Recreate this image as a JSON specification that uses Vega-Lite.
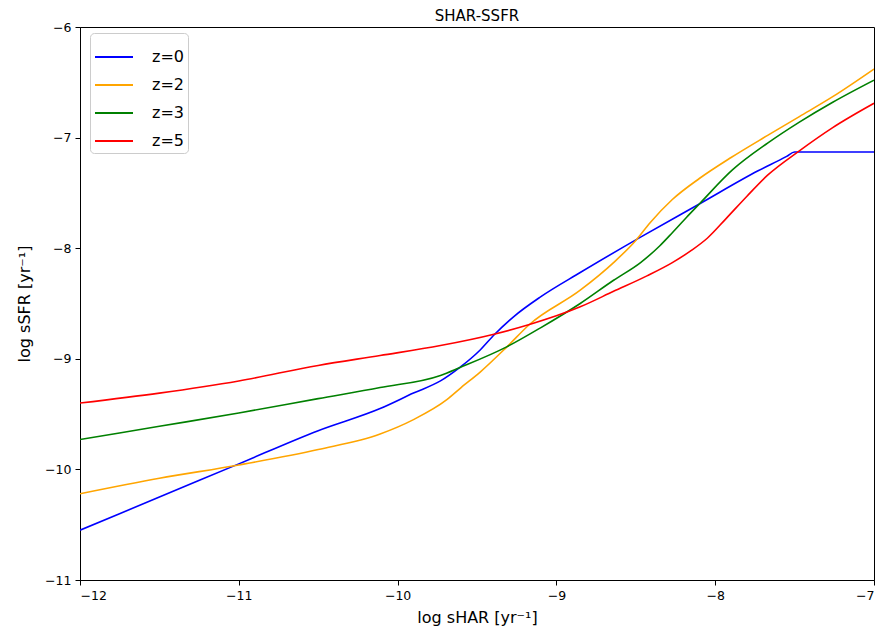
{
  "$schema": "https://vega.github.io/schema/vega-lite/v6.json",
  "width": 794,
  "height": 553,
  "autosize": {"type": "none"},
  "padding": {"left": 80, "top": 27, "right": 9, "bottom": 52},
  "background": "white",
  "title": {"text": "SHAR-SSFR", "fontSize": 15, "font": "DejaVu Sans", "fontWeight": "normal", "color": "#000", "offset": -3},
  "config": {
    "view": {"stroke": "#000", "strokeWidth": 1},
    "axis": {
      "grid": false, "domainColor": "#000", "tickColor": "#000", "tickSize": 5,
      "labelFont": "DejaVu Sans", "labelFontSize": 12.5, "labelColor": "#000",
      "titleFont": "DejaVu Sans", "titleFontSize": 16, "titleFontWeight": "normal", "titleColor": "#000"
    },
    "legend": {
      "padding": 4, "strokeColor": "#cccccc", "cornerRadius": 4, "fillColor": "white",
      "symbolType": "stroke", "symbolSize": 1444, "symbolStrokeWidth": 2, "rowPadding": 0,
      "labelFont": "DejaVu Sans", "labelFontSize": 16, "labelColor": "#000", "labelOffset": 18
    }
  },
  "data": {"values": [
    {"x": -12, "y": -10.55, "z": "z=0"},
    {"x": -11.5, "y": -10.25, "z": "z=0"},
    {"x": -11, "y": -9.95, "z": "z=0"},
    {"x": -10.5, "y": -9.65, "z": "z=0"},
    {"x": -10.11, "y": -9.45, "z": "z=0"},
    {"x": -9.9, "y": -9.31, "z": "z=0"},
    {"x": -9.73, "y": -9.2, "z": "z=0"},
    {"x": -9.61, "y": -9.08, "z": "z=0"},
    {"x": -9.48, "y": -8.92, "z": "z=0"},
    {"x": -9.39, "y": -8.78, "z": "z=0"},
    {"x": -9.27, "y": -8.62, "z": "z=0"},
    {"x": -9.1, "y": -8.44, "z": "z=0"},
    {"x": -8.85, "y": -8.22, "z": "z=0"},
    {"x": -8.47, "y": -7.9, "z": "z=0"},
    {"x": -8.1, "y": -7.6, "z": "z=0"},
    {"x": -7.73, "y": -7.3, "z": "z=0"},
    {"x": -7.55, "y": -7.17, "z": "z=0"},
    {"x": -7.5, "y": -7.13, "z": "z=0"},
    {"x": -7.0, "y": -7.13, "z": "z=0"},

    {"x": -12, "y": -10.22, "z": "z=2"},
    {"x": -11.5, "y": -10.08, "z": "z=2"},
    {"x": -11, "y": -9.96, "z": "z=2"},
    {"x": -10.5, "y": -9.82, "z": "z=2"},
    {"x": -10.11, "y": -9.68, "z": "z=2"},
    {"x": -9.9, "y": -9.55, "z": "z=2"},
    {"x": -9.69, "y": -9.37, "z": "z=2"},
    {"x": -9.6, "y": -9.26, "z": "z=2"},
    {"x": -9.48, "y": -9.12, "z": "z=2"},
    {"x": -9.31, "y": -8.89, "z": "z=2"},
    {"x": -9.17, "y": -8.69, "z": "z=2"},
    {"x": -8.85, "y": -8.38, "z": "z=2"},
    {"x": -8.64, "y": -8.13, "z": "z=2"},
    {"x": -8.5, "y": -7.93, "z": "z=2"},
    {"x": -8.41, "y": -7.77, "z": "z=2"},
    {"x": -8.27, "y": -7.56, "z": "z=2"},
    {"x": -8.1, "y": -7.37, "z": "z=2"},
    {"x": -7.9, "y": -7.18, "z": "z=2"},
    {"x": -7.67, "y": -6.98, "z": "z=2"},
    {"x": -7.47, "y": -6.81, "z": "z=2"},
    {"x": -7.26, "y": -6.63, "z": "z=2"},
    {"x": -7.0, "y": -6.38, "z": "z=2"},

    {"x": -12, "y": -9.73, "z": "z=3"},
    {"x": -11.5, "y": -9.61, "z": "z=3"},
    {"x": -11, "y": -9.49, "z": "z=3"},
    {"x": -10.5, "y": -9.36, "z": "z=3"},
    {"x": -10.11, "y": -9.26, "z": "z=3"},
    {"x": -9.73, "y": -9.15, "z": "z=3"},
    {"x": -9.61, "y": -9.08, "z": "z=3"},
    {"x": -9.31, "y": -8.89, "z": "z=3"},
    {"x": -9.1, "y": -8.72, "z": "z=3"},
    {"x": -8.85, "y": -8.5, "z": "z=3"},
    {"x": -8.64, "y": -8.29, "z": "z=3"},
    {"x": -8.47, "y": -8.13, "z": "z=3"},
    {"x": -8.35, "y": -7.98, "z": "z=3"},
    {"x": -8.27, "y": -7.86, "z": "z=3"},
    {"x": -8.18, "y": -7.72, "z": "z=3"},
    {"x": -8.1, "y": -7.6, "z": "z=3"},
    {"x": -7.89, "y": -7.29, "z": "z=3"},
    {"x": -7.67, "y": -7.05, "z": "z=3"},
    {"x": -7.47, "y": -6.86, "z": "z=3"},
    {"x": -7.26, "y": -6.68, "z": "z=3"},
    {"x": -7.0, "y": -6.48, "z": "z=3"},

    {"x": -12, "y": -9.4, "z": "z=5"},
    {"x": -11.5, "y": -9.31, "z": "z=5"},
    {"x": -11, "y": -9.2, "z": "z=5"},
    {"x": -10.5, "y": -9.06, "z": "z=5"},
    {"x": -10.11, "y": -8.97, "z": "z=5"},
    {"x": -9.73, "y": -8.88, "z": "z=5"},
    {"x": -9.4, "y": -8.78, "z": "z=5"},
    {"x": -9.17, "y": -8.69, "z": "z=5"},
    {"x": -8.85, "y": -8.53, "z": "z=5"},
    {"x": -8.64, "y": -8.39, "z": "z=5"},
    {"x": -8.43, "y": -8.25, "z": "z=5"},
    {"x": -8.27, "y": -8.13, "z": "z=5"},
    {"x": -8.15, "y": -8.02, "z": "z=5"},
    {"x": -8.05, "y": -7.91, "z": "z=5"},
    {"x": -7.93, "y": -7.73, "z": "z=5"},
    {"x": -7.8, "y": -7.53, "z": "z=5"},
    {"x": -7.67, "y": -7.34, "z": "z=5"},
    {"x": -7.47, "y": -7.12, "z": "z=5"},
    {"x": -7.26, "y": -6.91, "z": "z=5"},
    {"x": -7.0, "y": -6.69, "z": "z=5"}
  ]},
  "mark": {"type": "line", "interpolate": "monotone", "strokeWidth": 1.6, "clip": true},
  "encoding": {
    "x": {"field": "x", "type": "quantitative", "scale": {"domain": [-12, -7], "nice": false, "zero": false},
      "axis": {"title": "log sHAR [yr⁻¹]", "values": [-12, -11, -10, -9, -8, -7], "format": "d", "labelPadding": 4, "titlePadding": 8}},
    "y": {"field": "y", "type": "quantitative", "scale": {"domain": [-11, -6], "nice": false, "zero": false},
      "axis": {"title": "log sSFR [yr⁻¹]", "values": [-11, -10, -9, -8, -7, -6], "format": "d", "labelPadding": 4, "titlePadding": 12}},
    "color": {"field": "z", "type": "nominal",
      "scale": {"domain": ["z=0", "z=2", "z=3", "z=5"], "range": ["#0000ff", "#ffa500", "#008000", "#ff0000"]},
      "legend": {"title": null, "orient": "none", "legendX": 10, "legendY": 6}}
  }
}
